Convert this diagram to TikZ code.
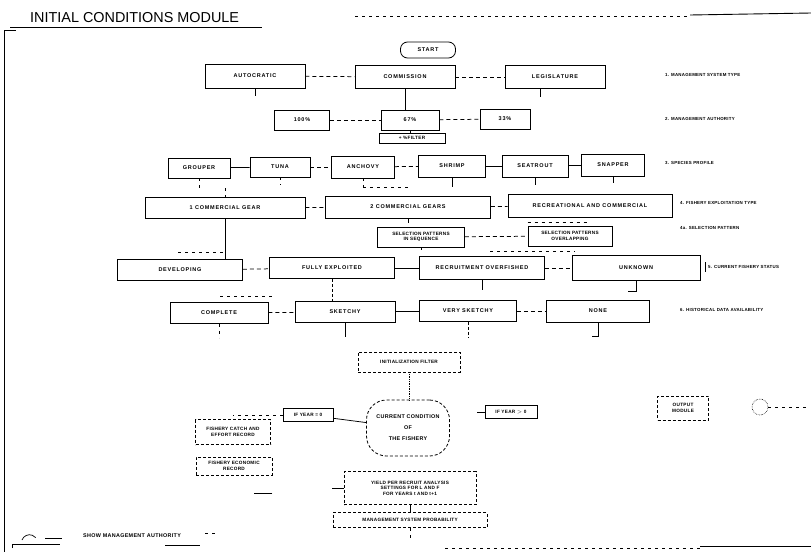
\documentclass[tikz,border=0pt]{standalone}
\usepackage{fontspec}
\setmainfont{Liberation Sans}
\newfontfamily\bx[LetterSpace=14]{Liberation Sans}
\newfontfamily\lb[LetterSpace=6]{Liberation Sans}
\begin{document}
\begin{tikzpicture}[x=1pt,y=-1pt,
  box/.style={draw, line width=0.8pt, inner sep=0pt, align=center,
    font=\bx\bfseries\fontsize{5.5}{6.8}\selectfont},
  sbox/.style={draw, line width=0.8pt, inner sep=0pt, align=center,
    font=\lb\bfseries\fontsize{4.7}{5.4}\selectfont},
  tbox/.style={draw, densely dashed, line width=0.65pt, inner sep=0pt, align=center,
    font=\lb\bfseries\fontsize{4.7}{5.4}\selectfont},
  lab/.style={anchor=west, inner sep=0pt, font=\lb\bfseries\fontsize{4.4}{5}\selectfont},
  tie/.style={line width=0.75pt},
  dtie/.style={line width=0.75pt, dash pattern=on 4pt off 3pt},
  faint/.style={line width=0.6pt, dash pattern=on 3pt off 4pt}]
\useasboundingbox (0,0) rectangle (811,552);
% title and frame
\node[anchor=west, inner sep=0pt, font=\fontsize{14.4}{15}\selectfont] (title) at (30,18) {INITIAL CONDITIONS MODULE};
\draw[line width=0.8pt] (10,27) -- (262,27);
\draw[faint] (355,16) -- (690,16);
\draw[line width=0.9pt] (690,15) -- (811,13);
\draw[line width=0.7pt] (4,30) -- (4,552);
\draw[line width=0.7pt] (4,30) -- (16,30);
% row 1
\node[box, rounded corners=7pt, minimum width=55pt, minimum height=16pt] (start) at (428,50) {START};
\node[box, minimum width=100pt, minimum height=24pt] (auto) at (255,76) {AUTOCRATIC};
\node[box, minimum width=100pt, minimum height=23pt] (comm) at (405,77) {COMMISSION};
\node[box, minimum width=100pt, minimum height=23pt] (legis) at (555,77) {LEGISLATURE};
% row 2
\node[box, minimum width=55pt, minimum height=20pt] (p100) at (302,120) {100\%};
\node[box, minimum width=58pt, minimum height=20pt] (p67) at (410,120) {67\%};
\node[box, minimum width=50pt, minimum height=20pt] (p33) at (505,119) {33\%};
\node[sbox, minimum width=66pt, minimum height=10pt] (filt) at (412,138) {+ \%FILTER};
% row 3
\node[box, minimum width=62pt, minimum height=20pt] (grouper) at (199,168) {GROUPER};
\node[box, minimum width=60pt, minimum height=20pt] (tuna) at (280,167) {TUNA};
\node[box, minimum width=63pt, minimum height=22pt] (anchovy) at (363,167) {ANCHOVY};
\node[box, minimum width=67pt, minimum height=22pt] (shrimp) at (452,166) {SHRIMP};
\node[box, minimum width=66pt, minimum height=22pt] (seatrout) at (535,166) {SEATROUT};
\node[box, minimum width=63pt, minimum height=22pt] (snapper) at (613,165) {SNAPPER};
% row 4
\node[box, minimum width=160pt, minimum height=21pt] (gear1) at (225,208) {1 COMMERCIAL GEAR};
\node[box, minimum width=165pt, minimum height=22pt] (gear2) at (408,207) {2 COMMERCIAL GEARS};
\node[box, minimum width=164pt, minimum height=23pt] (recr) at (590,206) {RECREATIONAL AND COMMERCIAL};
% row 4a
\node[sbox, minimum width=87pt, minimum height=20pt] (seq) at (421,237) {SELECTION PATTERNS\\IN SEQUENCE};
\node[sbox, minimum width=84pt, minimum height=20pt] (over) at (570,236) {SELECTION PATTERNS\\OVERLAPPING};
% row 5
\node[box, minimum width=125pt, minimum height=21pt] (dev) at (180,270) {DEVELOPING};
\node[box, minimum width=125pt, minimum height=21pt] (fully) at (332,268) {FULLY EXPLOITED};
\node[box, minimum width=125pt, minimum height=23pt] (recruit) at (482,268) {RECRUITMENT OVERFISHED};
\node[box, minimum width=128pt, minimum height=25pt] (unknown) at (636,268) {UNKNOWN};
% row 6
\node[box, minimum width=98pt, minimum height=21pt] (complete) at (219,313) {COMPLETE};
\node[box, minimum width=100pt, minimum height=21pt] (sketchy) at (345,312) {SKETCHY};
\node[box, minimum width=97pt, minimum height=21pt] (vsketchy) at (468,311) {VERY SKETCHY};
\node[box, minimum width=103pt, minimum height=22pt] (none) at (598,311) {NONE};
% lower part
\node[tbox, minimum width=102pt, minimum height=20pt] (init) at (409,362) {INITIALIZATION FILTER};
\node[sbox, densely dashed, rounded corners=20pt, minimum width=83pt, minimum height=56pt, font=\lb\bfseries\fontsize{5.4}{11}\selectfont] (cur) at (408,428) {CURRENT CONDITION\\OF\\THE FISHERY};
\node[sbox, minimum width=50pt, minimum height=13pt] (y0) at (308,415) {IF YEAR = 0};
\node[sbox, minimum width=52pt, minimum height=13pt] (yg) at (511,412) {IF YEAR $>$ 0};
\node[tbox, minimum width=51pt, minimum height=24pt] (out) at (683,408) {OUTPUT\\MODULE};
\node[draw, densely dotted, line width=0.6pt, circle, minimum size=16pt, inner sep=0pt] (circ) at (760,407) {};
\node[tbox, minimum width=75pt, minimum height=25pt] (catch) at (233,432) {FISHERY CATCH AND\\EFFORT RECORD};
\node[tbox, minimum width=76pt, minimum height=18pt] (econ) at (234,466) {FISHERY ECONOMIC\\RECORD};
\node[tbox, minimum width=132pt, minimum height=33pt] (yield) at (410,488) {YIELD PER RECRUIT ANALYSIS\\SETTINGS FOR L AND F\\FOR YEARS t AND t+1};
\node[tbox, minimum width=154pt, minimum height=15pt] (msp) at (410,520) {MANAGEMENT SYSTEM PROBABILITY};
\node[lab, font=\lb\bfseries\fontsize{5.4}{6}\selectfont] (show) at (83,536) {SHOW MANAGEMENT AUTHORITY};
% right-hand labels
\node[lab] (l1) at (665,75) {1. MANAGEMENT SYSTEM TYPE};
\node[lab] (l2) at (665,119) {2. MANAGEMENT AUTHORITY};
\node[lab] (l3) at (665,163) {3. SPECIES PROFILE};
\node[lab] (l4) at (680,203) {4. FISHERY EXPLOITATION TYPE};
\node[lab] (l4a) at (680,228) {4a. SELECTION PATTERN};
\node[lab] (l5) at (708,267) {5. CURRENT FISHERY STATUS};
\node[lab] (l6) at (680,310) {6. HISTORICAL DATA AVAILABILITY};
\draw[tie] (705,262) -- (705,272);
% row ties
\draw[dtie] (auto) -- (comm);
\draw[dtie] (comm) -- (legis);
\draw[tie] (comm.south) -- (comm.south |- p67.north);
\draw[tie] (auto.south) -- ++(0,8) coordinate (autos);
\draw[tie] (legis.south -| 540,0) -- ++(0,8) coordinate (legs);
\draw[dtie] (p100) -- (p67);
\draw[dtie] (p67) -- (p33);
\draw[tie] (p67.south) -- (filt.north -| p67.south);
\draw[tie] (grouper) -- (tuna);
\draw[dtie] (tuna) -- (anchovy);
\draw[dtie] (anchovy) -- (shrimp);
\draw[tie] (shrimp) -- (seatrout);
\draw[tie] (seatrout) -- (snapper);
\draw[faint] (grouper.south) -- ++(0,10) coordinate (gs);
\draw[faint] (tuna.south) -- ++(0,8) coordinate (ts);
\draw[faint] (anchovy.south) -- ++(0,9) coordinate (as);
\draw[faint] (as) -- ++(48,0) coordinate (ase);
\draw[tie] (shrimp.south) -- ++(0,10) coordinate (ss);
\draw[tie] (seatrout.south) -- ++(0,8) coordinate (sts);
\draw[tie] (snapper.south) -- ++(0,7) coordinate (sns);
\draw[faint] (225,188) coordinate (g1t) -- (g1t |- gear1.north);
\draw[dtie] (gear1) -- (gear2);
\draw[dtie] (gear2) -- (recr);
\draw[tie] (gear2.south) -- ++(0,5) coordinate (g2s);
\draw[faint] (recr.south west) ++(20,4) coordinate (rs1) -- ++(60,0);
\draw[dtie] (seq) -- (over);
\draw[faint] (seq.south) -- ++(0,6) coordinate (sqs);
\draw[faint] (over.south) ++(-80,5) coordinate (ovs) -- ++(85,0);
\draw[tie] (gear1.south) -- (gear1.south |- dev.north);
\draw[faint] (178,252) coordinate (dvt) -- (225,252);
\draw[dtie] (dev) -- (fully);
\draw[tie] (fully) -- (recruit);
\draw[dtie] (recruit) -- (unknown);
\draw[densely dashed, line width=0.7pt] (fully.south) -- (fully.south |- sketchy.north);
\draw[faint] (220,296) coordinate (cpt) -- (275,296);
\draw[tie] (recruit.south) -- ++(0,10) coordinate (rcs);
\draw[tie] (unknown.south) -- ++(0,10) coordinate (uks) -- ++(-8,0);
\draw[dtie] (complete) -- (sketchy);
\draw[tie] (sketchy) -- (vsketchy);
\draw[dtie] (vsketchy) -- (none);
\draw[faint] (complete.south) -- ++(0,14) coordinate (cps);
\draw[tie] (sketchy.south) -- ++(0,14) coordinate (sks);
\draw[densely dashed, line width=0.7pt] (vsketchy.south) -- ++(0,16) coordinate (vss);
\draw[tie] (none.south) -- ++(0,14) coordinate (nos) -- ++(-6,0);
\draw[densely dotted, line width=0.7pt] (init.south) -- (cur.north -| init.south);
\draw[tie] (y0) -- (cur);
\draw[faint] (y0.west) -- ++(-50,0) coordinate (y0w);
\draw[tie] (yg.west) -- ++(-8,0) coordinate (ygw);
\draw[faint] (circ.east) -- ++(40,0) coordinate (circe);
\draw[tie] (yield.west) -- ++(-12,0) coordinate (yw);
\draw[tie] (yield) -- (msp);
\draw[faint] (msp.south) -- ++(0,10) coordinate (mss);
\draw[tie] (econ.south east) ++(0,18) coordinate (ecs) -- ++(-18,0);
% bottom stray marks
\draw[line width=0.7pt] (22,540) arc[start angle=160, end angle=40, radius=8pt] coordinate (arcend);
\draw[line width=0.7pt] (45,538) -- (62,538);
\draw[line width=0.7pt] (12,548) -- (12,544) -- (60,544);
\draw[line width=0.7pt] (165,545) -- (200,545);
\draw[faint] (205,533) -- (215,533);
\draw[faint] (445,548) -- (700,548);
\draw[line width=0.9pt] (700,546) -- (811,546);
\end{tikzpicture}
\end{document}
